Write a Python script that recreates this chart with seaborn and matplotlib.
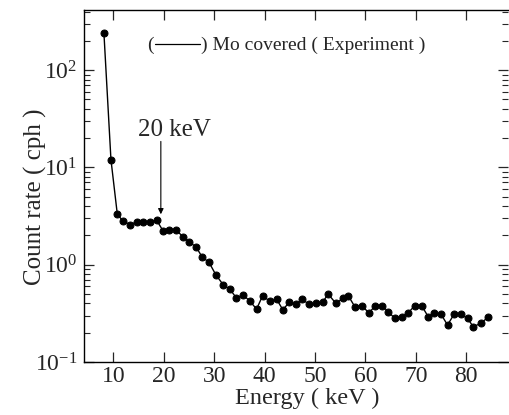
import numpy as np
import pandas as pd
import matplotlib
matplotlib.use("Agg")
import matplotlib.pyplot as plt
from matplotlib.lines import Line2D
import seaborn as sns
from matplotlib.ticker import LogLocator, FixedLocator

# Data
energy_kev = [8.1, 9.5, 10.75, 11.8, 13.3, 14.6, 15.8, 17.2, 18.6, 19.9,
              21.1, 22.5, 23.85, 25.0, 26.4, 27.6, 28.95, 30.3, 31.8, 33.1,
              34.4, 35.75, 37.1, 38.4, 39.6, 41.05, 42.4, 43.6, 44.9, 46.2,
              47.5, 48.85, 50.2, 51.5, 52.6, 54.15, 55.5, 56.6, 57.9, 59.25,
              60.7, 62.0, 63.3, 64.5, 65.85, 67.2, 68.5, 69.8, 71.15, 72.5,
              73.65, 75.0, 76.3, 77.6, 78.95, 80.3, 81.4, 82.9, 84.4]
count_rate = [242, 12.0, 3.34, 2.83, 2.58, 2.75, 2.72, 2.77, 2.85, 2.20,
              2.29, 2.25, 1.93, 1.72, 1.52, 1.20, 1.06, 0.79, 0.62, 0.56,
              0.455, 0.49, 0.42, 0.35, 0.48, 0.42, 0.44, 0.345, 0.41, 0.39,
              0.44, 0.39, 0.40, 0.41, 0.50, 0.40, 0.45, 0.48, 0.37, 0.38,
              0.32, 0.38, 0.38, 0.33, 0.28, 0.29, 0.32, 0.38, 0.38, 0.29,
              0.32, 0.31, 0.24, 0.31, 0.31, 0.28, 0.23, 0.25, 0.29]
x_ticks = [10, 20, 30, 40, 50, 60, 70, 80]

legend_label = ") Mo covered ( Experiment )"
arrow_text = "20 keV"
arrow_energy = 19.4

df = pd.DataFrame({"Energy": energy_kev, "Count": count_rate})

sns.set_style("ticks")
plt.rcParams["font.family"] = ["Liberation Serif", "DejaVu Serif"]
plt.rcParams["mathtext.fontset"] = "stix"

W, H = 510, 415
fig = plt.figure(figsize=(W / 100, H / 100), dpi=100)
ax = fig.add_axes([84 / W, 1 - 362 / H, (508 - 84) / W, (362 - 10) / H])

sns.lineplot(data=df, x="Energy", y="Count", ax=ax, color="black",
             linewidth=1.0, marker="o", markersize=5,
             markeredgecolor="black", markerfacecolor="black")

ax.set_yscale("log")
ax.set_xlim(4.15, 88.3)
ax.set_ylim(0.1, 415)
ax.xaxis.set_major_locator(FixedLocator(x_ticks))
ax.yaxis.set_major_locator(LogLocator(base=10, numticks=10))
ax.yaxis.set_minor_locator(LogLocator(base=10, subs=np.arange(2, 10), numticks=20))

ax.tick_params(axis="both", which="major", direction="in", length=7, width=0.9,
               top=True, right=True, labelsize=17)
ax.tick_params(axis="x", which="major", pad=3)
ax.tick_params(axis="y", which="major", pad=5)
ax.tick_params(axis="y", which="minor", direction="in", length=4.5, width=0.8,
               right=True, left=True)
ax.tick_params(axis="x", which="minor", bottom=False, top=False)

for s in ax.spines.values():
    s.set_linewidth(1.0)
    s.set_color("black")
ax.spines["right"].set_visible(False)

ax.set_xlabel("Energy ( keV )", fontsize=17.5)
ax.set_ylabel("Count rate ( cph )", fontsize=18)
ax.xaxis.label.set_va("baseline")
ax.xaxis.set_label_coords(0.527, (362 - 404) / 352)
ax.yaxis.set_label_coords(-0.088, 0.47)

# legend-like caption: "(——) Mo covered ( Experiment )"
ty = 1 - 45 / H
fig.text(147 / W, ty, "(", fontsize=14, ha="left", va="center")
fig.add_artist(Line2D([155 / W, 200 / W], [1 - 44 / H, 1 - 44 / H],
                      color="black", lw=0.9, transform=fig.transFigure))
fig.text(201 / W, ty, legend_label, fontsize=14, ha="left", va="center")

ax.annotate("", xy=(arrow_energy, 3.3), xytext=(arrow_energy, 18.5),
            arrowprops=dict(arrowstyle="-|>", color="black", lw=0.8,
                            mutation_scale=8, shrinkA=0, shrinkB=0))
ax.text(22.0, 24.4, arrow_text, fontsize=18, ha="center", va="center")

fig.savefig("out.png", dpi=100)
